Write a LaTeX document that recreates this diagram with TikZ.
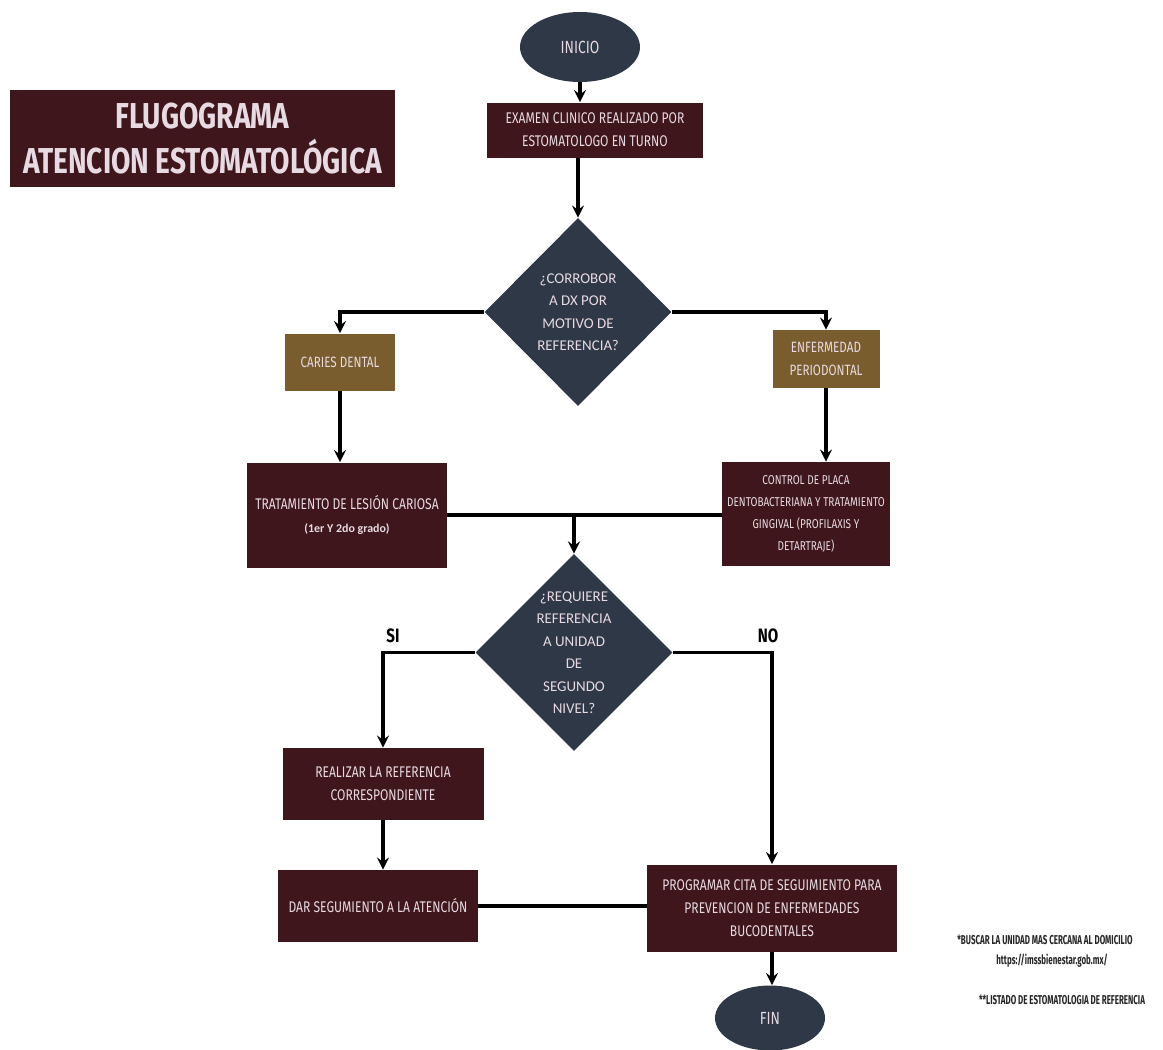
\documentclass[tikz,border=0pt]{standalone}
\usepackage{fontspec}
\setmainfont{Fira Sans}
\newfontfamily\condfont{Fira Sans}[FakeStretch=0.78]
\newfontfamily\notafont{Fira Sans}[FakeStretch=0.62]
\newfontfamily\diafont{Carlito}
\usetikzlibrary{calc,arrows,positioning,shapes.geometric}
\definecolor{vino}{RGB}{62,22,28}
\definecolor{ocre}{RGB}{122,93,46}
\definecolor{pizarra}{RGB}{46,56,70}
\definecolor{rosado}{RGB}{232,218,226}

\begin{document}
\begin{tikzpicture}
	\tikzstyle{caja} = [rectangle, fill=vino, text=rosado, align=center, inner sep=2pt, font=\condfont\fontsize{8.8}{13}\selectfont]
	\tikzstyle{diag} = [rectangle, fill=ocre, text=rosado, align=center, inner sep=2pt, font=\condfont\fontsize{8.5}{13}\selectfont]
	\tikzstyle{decision} = [diamond, fill=pizarra, text=rosado, align=center, inner sep=0pt, font=\diafont\fontsize{8.5}{12.8}\selectfont]
	\tikzstyle{terminal} = [ellipse, fill=pizarra, text=rosado, inner sep=0pt, font=\condfont\fontsize{10}{12}\selectfont]
	\tikzstyle{etiqueta} = [font=\condfont\bfseries\fontsize{11}{13}\selectfont]
	\tikzstyle{nota} = [font=\notafont\bfseries\fontsize{7.3}{9}\selectfont, text=black!85]
	\tikzstyle{linea} = [line width=2pt]
	\tikzstyle{flecha} = [->,>=stealth,line width=2pt]

	\useasboundingbox (0,0) rectangle (23.26,-20.98);

	\node[caja, minimum width=7.7cm, minimum height=1.94cm, font=\condfont\bfseries\fontsize{20.5}{26}\selectfont] (titulo) at (4.05,-2.77) {FLUGOGRAMA\\ATENCION ESTOMATOLÓGICA};

	\node[terminal, minimum width=2.4cm, minimum height=1.4cm] (inicio) at (11.6,-0.94) {INICIO};
	\node[caja, minimum width=4.32cm, minimum height=1.1cm] (examen) at (11.9,-2.6) {EXAMEN CLINICO REALIZADO POR\\ESTOMATOLOGO EN TURNO};
	\node[decision, minimum width=3.74cm, minimum height=3.76cm] (corrobor) at (11.56,-6.24) {¿CORROBOR\\A DX POR\\MOTIVO DE\\REFERENCIA?};
	\node[diag, minimum width=2.2cm, minimum height=1.14cm] (caries) at (6.8,-7.24) {CARIES DENTAL};
	\node[diag, minimum width=2.14cm, minimum height=1.16cm] (enfermedad) at (16.52,-7.18) {ENFERMEDAD\\PERIODONTAL};
	\node[caja, minimum width=4.0cm, minimum height=2.1cm] (tratamiento) at (6.94,-10.3) {TRATAMIENTO DE LESIÓN CARIOSA\\{\diafont\bfseries\fontsize{6.8}{10}\selectfont (1er Y 2do grado)}};
	\node[caja, minimum width=3.36cm, minimum height=2.08cm, font=\condfont\fontsize{7.3}{12.5}\selectfont] (control) at (16.12,-10.28) {CONTROL DE PLACA\\DENTOBACTERIANA Y TRATAMIENTO\\GINGIVAL (PROFILAXIS Y\\DETARTRAJE)};
	\node[decision, minimum width=3.36cm, minimum height=3.3cm] (nivel) at (11.48,-13.05) {¿REQUIERE\\REFERENCIA\\A UNIDAD\\DE\\SEGUNDO\\NIVEL?};
	\node[etiqueta] (si) at (7.86,-12.72) {SI};
	\node[etiqueta] (no) at (15.36,-12.72) {NO};
	\node[caja, minimum width=4.02cm, minimum height=1.44cm] (realizar) at (7.66,-15.68) {REALIZAR LA REFERENCIA\\CORRESPONDIENTE};
	\node[caja, minimum width=4.0cm, minimum height=1.44cm] (dar) at (7.56,-18.12) {DAR SEGUMIENTO A LA ATENCIÓN};
	\node[caja, minimum width=5.0cm, minimum height=1.74cm] (programar) at (15.44,-18.16) {PROGRAMAR CITA DE SEGUIMIENTO PARA\\PREVENCION DE ENFERMEDADES\\BUCODENTALES};
	\node[terminal, minimum width=2.2cm, minimum height=1.3cm] (fin) at (15.4,-20.36) {FIN};

	\node[nota] (buscar) at (20.9,-18.8) {*BUSCAR LA UNIDAD MAS CERCANA AL DOMICILIO};
	\node[nota] (enlace) at (21.04,-19.22) {https://imssbienestar.gob.mx/};
	\node[nota] (listado) at (21.24,-20.0) {**LISTADO DE ESTOMATOLOGIA DE REFERENCIA};

	\draw[flecha] (inicio.south) -- (inicio.south |- examen.north);
	\draw[flecha] (examen.south -| corrobor.north) -- (corrobor.north);
	\draw[flecha] (corrobor.west) -| (caries.north);
	\draw[flecha] (corrobor.east) -| (enfermedad.north);
	\draw[flecha] (caries.south) -- (caries.south |- tratamiento.north);
	\draw[flecha] (enfermedad.south) -- (enfermedad.south |- control.north);
	\draw[linea] (tratamiento.east) -- (tratamiento.east -| control.west);
	\coordinate (union) at (tratamiento.east -| nivel.north);
	\draw[flecha] (union) -- (nivel.north);
	\draw[flecha] (nivel.west) -| (realizar.north);
	\draw[flecha] (nivel.east) -| (programar.north);
	\draw[flecha] (realizar.south) -- (realizar.south |- dar.north);
	\draw[linea] (dar.east) -- (dar.east -| programar.west);
	\draw[flecha] (programar.south) -- (programar.south |- fin.north);
\end{tikzpicture}
\end{document}
